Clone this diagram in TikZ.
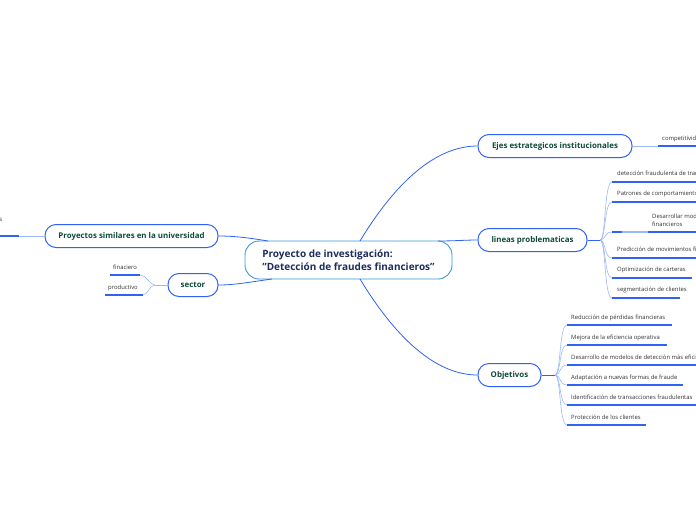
\documentclass[tikz,border=0pt]{standalone}
\usepackage{fontspec}
\setmainfont{Open Sans}
\definecolor{nodeblue}{HTML}{2F62F5}
\definecolor{rootblue}{HTML}{3A98D8}
\definecolor{roottext}{HTML}{1E2D5C}
\definecolor{greentext}{HTML}{0E4A3B}
\definecolor{linkblue}{HTML}{2F62F0}
\definecolor{fanblue}{HTML}{9DB8F7}
\definecolor{leaftext}{HTML}{333333}
\tikzset{
  rootbox/.style={draw=rootblue, line width=0.9pt, rounded corners=14pt, fill=white, minimum width=207pt, minimum height=38pt, align=left, font=\fontsize{10}{13.5}\selectfont\bfseries, text=roottext, inner xsep=15pt},
  mainbox/.style={draw=nodeblue, line width=1pt, rounded corners=11pt, fill=white, minimum height=23pt, font=\fontsize{7.9}{9}\selectfont\bfseries, text=greentext},
  leaf/.style={anchor=west, inner sep=0pt, font=\fontsize{5.9}{7.6}\selectfont, text=leaftext, align=left},
  link/.style={draw=linkblue, line width=0.8pt},
  fan/.style={draw=fanblue, line width=0.6pt},
  uline/.style={draw=nodeblue, line width=1.6pt},
}
\begin{document}
\begin{tikzpicture}[x=1pt,y=-1pt]
\useasboundingbox (0,0) rectangle (696,520);
\clip (0,0) rectangle (696,520);

% root
\node[rootbox] (root) at (348.5,260) {Proyecto de investigación:\\"Detección de fraudes financieros"};

% main nodes
\node[mainbox, minimum width=154pt] (ejes) at (555,146) {Ejes estrategicos institucionales};
\node[mainbox, minimum width=109pt] (lineas) at (532.5,240) {lineas problematicas};
\node[mainbox, minimum width=63pt] (obj) at (509.5,375) {Objetivos};
\node[mainbox, minimum width=173pt] (proy) at (131.5,236) {Proyectos similares en la universidad};
\node[mainbox, minimum width=50pt] (sector) at (193,285) {sector};

% root connectors
\coordinate (rt1) at (360,241);
\coordinate (rt2) at (438,241);
\coordinate (rb1) at (360,279);
\coordinate (rl1) at (268,241);
\coordinate (rl2) at (272,279);
\draw[link] (rt1) .. controls (400,175) and (440,146) .. (ejes.west);
\draw[link] (rt2) .. controls (455,241) and (465,240) .. (lineas.west);
\draw[link] (rb1) .. controls (400,345) and (440,375) .. (obj.west);
\draw[link] (rl1) .. controls (250,238) and (235,236) .. (proy.east);
\draw[link] (rl2) .. controls (250,282) and (235,285) .. (sector.east);

% Ejes child
\coordinate (e0) at (658,146);
\coordinate (e1) at (696,146);
\draw[fan] (ejes.east) -- (e0);
\draw[uline] (e0) -- (e1);
\node[leaf] (comp) at (662,139) {competitividad};

% lineas children
\coordinate (lh) at (600,240);
\draw[link] (lineas.east) -- (lh);
\foreach \n/\y/\xe/\t in {
  1/182/700/{detección fraudulenta  de transacciones},
  2/202/700/{Patrones de comportamiento},
  4/258/700/{Predicción de movimientos financieros},
  5/278/692/{Optimización de carteras},
  6/298/680/{segmentación de clientes}} {
  \coordinate (ls\n) at (612,\y);
  \coordinate (le\n) at (\xe,\y);
  \draw[fan] (lh) .. controls (606,240) and (604,\y) .. (ls\n);
  \draw[uline] (ls\n) -- (le\n);
  \node[leaf] (lt\n) at (617,\y-8.5) {\t};
}
\coordinate (ls3) at (612,232);
\coordinate (lm3) at (622,232);
\coordinate (ln3) at (648,232);
\coordinate (le3) at (700,232);
\draw[fan] (lh) .. controls (606,240) and (604,232) .. (ls3);
\draw[uline] (ls3) -- (lm3);
\draw[fan, line width=1.6pt] (lm3) -- (ln3);
\draw[uline] (ln3) -- (le3);
\node[leaf] (lt3) at (652,220.5) {Desarrollar modelos\\financieros};

% objetivos children
\coordinate (oh) at (555,375);
\draw[link] (obj.east) -- (oh);
\foreach \n/\y/\xe/\t in {
  1/325/672/{Reducción de pérdidas financieras},
  2/345/667/{Mejora de la eficiencia operativa},
  3/365/700/{Desarrollo de modelos de detección más eficientes},
  4/385/683/{Adaptación a nuevas formas de fraude},
  5/405/700/{Identificación de transacciones fraudulentas},
  6/425/646/{Protección de los clientes}} {
  \coordinate (os\n) at (567,\y);
  \coordinate (oe\n) at (\xe,\y);
  \draw[fan] (oh) .. controls (561,375) and (559,\y) .. (os\n);
  \draw[uline] (os\n) -- (oe\n);
  \node[leaf] (ot\n) at (571,\y-7.5) {\t};
}

% proyectos child
\coordinate (p0) at (19,236);
\coordinate (p1) at (-2,236);
\draw[fan] (proy.west) -- (p0);
\draw[uline] (p0) -- (p1);
\node[leaf, anchor=east] (pt) at (2.5,220) {s};

% sector children
\coordinate (sh) at (155,285);
\draw[fan] (sector.west) -- (sh);
\coordinate (s1a) at (140,275);
\coordinate (s1b) at (110,275);
\coordinate (s2a) at (143,295);
\coordinate (s2b) at (105,295);
\draw[fan] (sh) .. controls (149,285) and (147,275) .. (s1a);
\draw[fan] (sh) .. controls (149,285) and (148,295) .. (s2a);
\draw[uline] (s1a) -- (s1b);
\draw[uline] (s2a) -- (s2b);
\node[leaf] (st1) at (113,267) {finaciero};
\node[leaf] (st2) at (108,288) {productivo};
\end{tikzpicture}
\end{document}
